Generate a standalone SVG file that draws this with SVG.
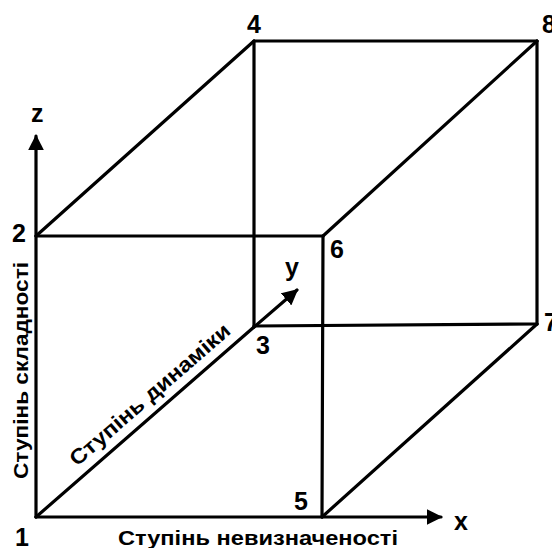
<svg xmlns="http://www.w3.org/2000/svg" width="552" height="548" viewBox="0 0 552 548">
<style>
.e{stroke:#000;stroke-width:3.2;fill:none;stroke-linecap:round}
.n{font-family:"Liberation Sans",Arial,sans-serif;font-weight:bold;font-size:25px;fill:#000}
.t{font-family:"Liberation Sans",Arial,sans-serif;font-weight:bold;font-size:21px;fill:#000}
</style>
<defs>
<marker id="ah" viewBox="0 0 10 10" refX="9" refY="5" markerWidth="5" markerHeight="5" markerUnits="strokeWidth" orient="auto">
<path d="M0,0 L10,5 L0,10 Z" fill="#000"/>
</marker>
</defs>
<rect width="552" height="548" fill="#fff"/>
<g id="connectors">
<line class="e" x1="36" y1="517" x2="36" y2="136" marker-end="url(#ah)"/>
<line class="e" x1="36" y1="517" x2="441" y2="517" marker-end="url(#ah)"/>
<line class="e" x1="254" y1="327" x2="297" y2="290" marker-end="url(#ah)"/>
<line class="e" x1="36" y1="236" x2="254" y2="41"/>
<line class="e" x1="36" y1="236" x2="323" y2="236"/>
<line class="e" x1="254" y1="41" x2="537" y2="41"/>
<line class="e" x1="254" y1="41" x2="254" y2="327"/>
<line class="e" x1="537" y1="41" x2="537" y2="324"/>
<line class="e" x1="537" y1="41" x2="323" y2="236"/>
<line class="e" x1="323" y1="236" x2="322" y2="517"/>
<line class="e" x1="254" y1="326" x2="537" y2="324"/>
<line class="e" x1="36" y1="517" x2="254" y2="327"/>
<line class="e" x1="537" y1="324" x2="322" y2="517"/>
</g>
<g id="n1"><text class="n" x="15" y="546">1</text></g>
<g id="n2"><text class="n" x="12" y="242">2</text></g>
<g id="n3"><text class="n" x="256" y="354">3</text></g>
<g id="n4"><text class="n" x="247" y="33">4</text></g>
<g id="n5"><text class="n" x="294" y="510">5</text></g>
<g id="n6"><text class="n" x="330" y="258">6</text></g>
<g id="n7"><text class="n" x="544" y="331">7</text></g>
<g id="n8"><text class="n" x="542" y="33">8</text></g>
<g id="axes-labels">
<text class="n" x="31" y="122">z</text>
<text class="n" x="285" y="276">y</text>
<text class="n" x="454" y="530">x</text>
</g>
<g id="titles">
<text class="t" x="118" y="545" textLength="280" lengthAdjust="spacingAndGlyphs">Ступінь невизначеності</text>
<text class="t" transform="translate(28,479) rotate(-90)" textLength="217" lengthAdjust="spacingAndGlyphs">Ступінь складності</text>
<text class="t" font-size="23" transform="translate(77,467) rotate(-40.9)" textLength="205" lengthAdjust="spacingAndGlyphs">Ступінь динаміки</text>
</g>
</svg>
